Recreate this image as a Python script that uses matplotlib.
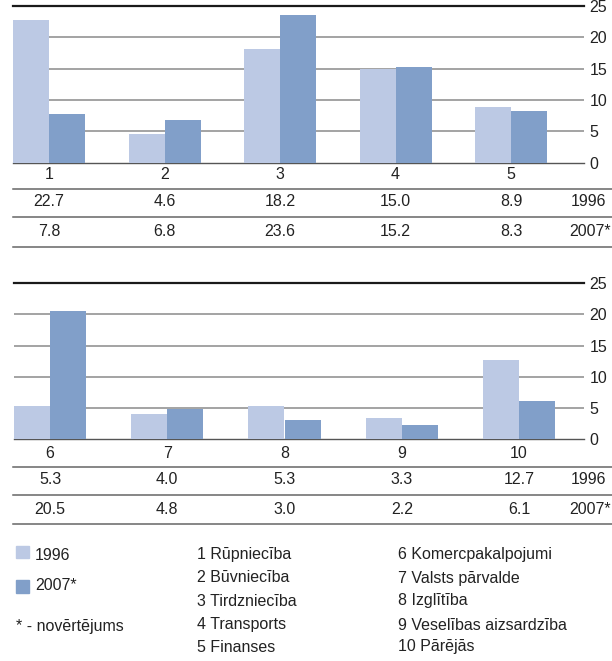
import matplotlib
matplotlib.use("Agg")
import matplotlib.pyplot as plt
from matplotlib.patches import Rectangle
from matplotlib.lines import Line2D
import matplotlib.transforms as mtransforms
from matplotlib import font_manager

names = {f.name for f in font_manager.fontManager.ttflist}
if 'Liberation Sans Narrow' in names:
    plt.rcParams['font.family'] = ['Liberation Sans Narrow', 'Liberation Sans', 'DejaVu Sans']
    FS = 12.6
else:
    plt.rcParams['font.family'] = ['Liberation Sans', 'DejaVu Sans']
    FS = 11.5

# ---- data ----
categories = ['1', '2', '3', '4', '5', '6', '7', '8', '9', '10']
values_1996 = [22.7, 4.6, 18.2, 15.0, 8.9, 5.3, 4.0, 5.3, 3.3, 12.7]
values_2007 = [7.8, 6.8, 23.6, 15.2, 8.3, 20.5, 4.8, 3.0, 2.2, 6.1]
series_labels = ['1996', '2007*']
yticks = [0, 5, 10, 15, 20, 25]
legend_names = ['1 Rūpniecība', '2 Būvniecība', '3 Tirdzniecība', '4 Transports', '5 Finanses',
                '6 Komercpakalpojumi', '7 Valsts pārvalde', '8 Izglītība',
                '9 Veselības aizsardzība', '10 Pārējās']
note = '* - novērtējums'

c_light = '#BCC9E4'
c_dark = '#819FC9'
txt = '#222222'
W, H = 612, 661

fig = plt.figure(figsize=(W / 100, H / 100), dpi=100)

def fx(px):
    return px / W

def fy(py):
    return 1 - py / H

def panel(idx, top_px, zero_px, left_px, right_px, center0_px, spacing_px,
          lab_y, line1, val1, line2, val2, line3):
    ax = fig.add_axes([fx(left_px), fy(zero_px), fx(right_px - left_px), (zero_px - top_px) / H])
    w = 36 / spacing_px
    xmin = (left_px - center0_px) / spacing_px
    xmax = (right_px - center0_px) / spacing_px
    cats = [categories[i] for i in idx]
    a = [values_1996[i] for i in idx]
    b = [values_2007[i] for i in idx]
    xs = list(range(len(cats)))
    ax.bar([x - w / 2 for x in xs], a, width=w, color=c_light, zorder=3, linewidth=0)
    ax.bar([x + w / 2 for x in xs], b, width=w, color=c_dark, zorder=3, linewidth=0)
    ax.set_xlim(xmin, xmax)
    ax.set_ylim(0, 25)
    for t in yticks[1:-1]:
        ax.axhline(t, color='#8a8a8a', lw=1.1, zorder=1)
    ax.axhline(25, color='#1a1a1a', lw=1.6, zorder=1, clip_on=False)
    ax.axhline(0, color='#555555', lw=1.0, zorder=1, clip_on=False)
    for s in ax.spines.values():
        s.set_visible(False)
    ax.set_xticks([])
    ax.yaxis.tick_right()
    ax.set_yticks(yticks)
    ax.set_yticklabels([str(t) for t in yticks], fontsize=FS, color=txt)
    ax.tick_params(axis='y', length=0, pad=4)
    tr = mtransforms.blended_transform_factory(ax.transData, fig.transFigure)
    for x, c, va_, vb_ in zip(xs, cats, a, b):
        ax.text(x, fy(lab_y), c, transform=tr, ha='center', va='center', fontsize=FS, color=txt)
        ax.text(x, fy(val1), f'{va_:.1f}', transform=tr, ha='center', va='center', fontsize=FS, color=txt)
        ax.text(x, fy(val2), f'{vb_:.1f}', transform=tr, ha='center', va='center', fontsize=FS, color=txt)
    fig.text(fx(588), fy(val1), series_labels[0], ha='center', va='center', fontsize=FS, color=txt)
    fig.text(fx(590), fy(val2), series_labels[1], ha='center', va='center', fontsize=FS, color=txt)
    for ly in (line1, line2, line3):
        fig.add_artist(Line2D([fx(13), 1.0], [fy(ly), fy(ly)], color='#666666', lw=1.1,
                              transform=fig.transFigure))
    return ax

panel([0, 1, 2, 3, 4], 6, 162.7, 13, 584, 49, 115.5, 175, 189, 202, 217, 232, 247)
panel([5, 6, 7, 8, 9], 283.3, 439, 14, 584, 50, 117.25, 454, 467, 480, 495, 510, 524)

# ---- legend ----
fig.add_artist(Rectangle((fx(16), fy(558)), fx(13), 12 / H, color=c_light, transform=fig.transFigure))
fig.add_artist(Rectangle((fx(16), fy(593)), fx(13), 13 / H, color=c_dark, transform=fig.transFigure))
fig.text(fx(35), fy(555), series_labels[0], ha='left', va='center', fontsize=FS, color=txt)
fig.text(fx(35), fy(585), series_labels[1], ha='left', va='center', fontsize=FS, color=txt)
fig.text(fx(16), fy(627), note, ha='left', va='center', fontsize=FS, color=txt)

row_y = [555, 578, 601, 625, 647]
for i, name in enumerate(legend_names[:5]):
    fig.text(fx(197), fy(row_y[i]), name, ha='left', va='center', fontsize=FS, color=txt)
for i, name in enumerate(legend_names[5:]):
    fig.text(fx(398), fy(row_y[i]), name, ha='left', va='center', fontsize=FS, color=txt)

fig.savefig('out.png', dpi=100)
